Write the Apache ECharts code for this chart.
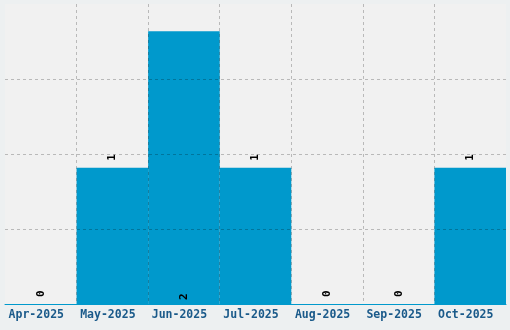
<!DOCTYPE html>
<html><head><meta charset="utf-8">
<script src="https://cdn.jsdelivr.net/npm/echarts@6/dist/echarts.min.js"></script>
<style>html,body{margin:0;padding:0;background:#edf0f1}#c{width:510px;height:330px}</style>
</head><body><div id="c"></div>
<script>
const categories = ['Apr-2025','May-2025','Jun-2025','Jul-2025','Aug-2025','Sep-2025','Oct-2025'];
const counts = [0,1,2,1,0,0,1];
const yMax = 2.2;
const yInterval = 0.55;

const maxVal = Math.max(...counts);
const barData = counts.map(v => v === maxVal
  ? {value: v, label: {position: 'insideBottom', distance: 4}}
  : v);

const chart = echarts.init(document.getElementById('c'));
chart.setOption({
  backgroundColor: '#edf0f1',
  animation: false,
  grid: {left: 5, right: 4, top: 4, bottom: 26, show: true, backgroundColor: '#f1f1f1', borderWidth: 0},
  xAxis: {
    type: 'category', data: categories, z: 5,
    axisLine: {lineStyle: {color: '#0099cc', width: 1}},
    axisTick: {show: false},
    axisLabel: {color: '#1a5a8a', fontFamily: 'DejaVu Sans Mono', fontWeight: 'bold', fontSize: 11.5, margin: 5, interval: 0, padding: [0, 9, 0, 0]},
    splitLine: {show: true, showMinLine: false, showMaxLine: false, lineStyle: {color: 'rgba(0,0,0,0.23)', type: [3,3], width: 1}}
  },
  yAxis: {
    type: 'value', min: 0, max: yMax, interval: yInterval, z: 5,
    axisLine: {show: false}, axisTick: {show: false}, axisLabel: {show: false},
    splitLine: {show: true, showMinLine: false, showMaxLine: false, lineStyle: {color: 'rgba(0,0,0,0.23)', type: [3,3], width: 1}}
  },
  series: [{
    type: 'bar', data: barData, barCategoryGap: 0, z: 2,
    itemStyle: {color: '#0099cc'},
    label: {show: true, position: 'top', distance: 7, rotate: 90, align: 'left', verticalAlign: 'middle',
      color: '#000', fontFamily: 'DejaVu Sans Mono', fontWeight: 'bold', fontSize: 11}
  }]
});
</script></body></html>
